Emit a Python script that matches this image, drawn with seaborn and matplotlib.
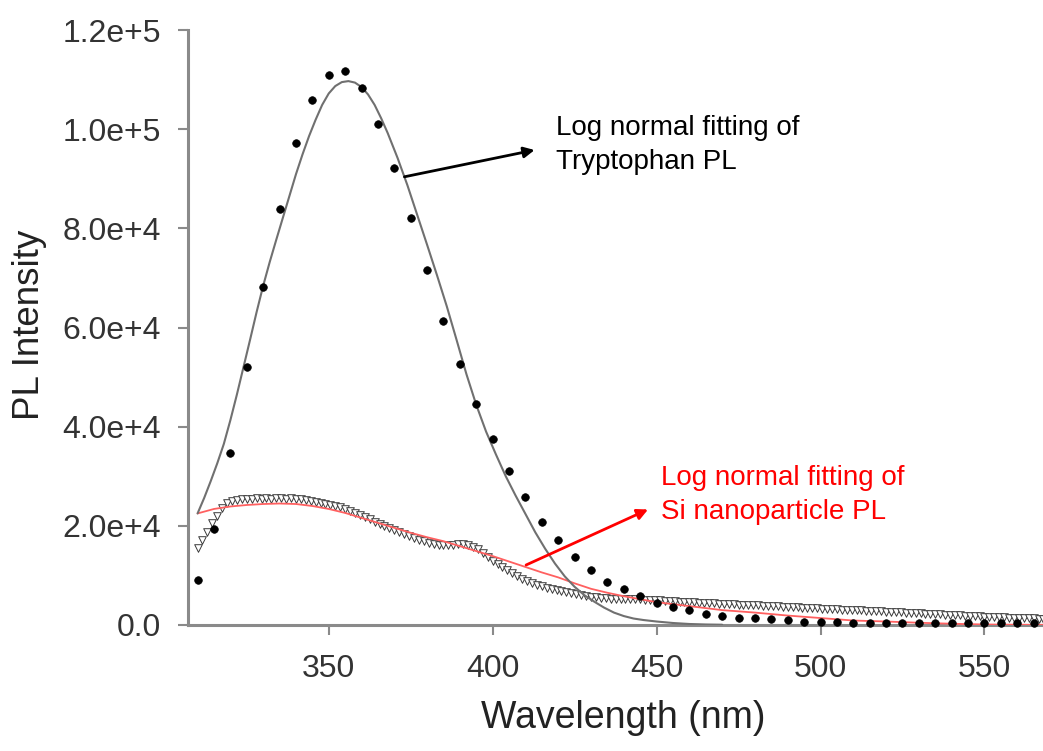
import numpy as np
import pandas as pd
import matplotlib
matplotlib.use("Agg")
import matplotlib.pyplot as plt
import seaborn as sns

# ---------------- data ----------------
# Tryptophan PL measured points (every 5 nm), intensity in units of 1e3
trp_wl = [310, 315, 320, 325, 330, 335, 340, 345, 350, 355, 360, 365, 370, 375,
          380, 385, 390, 395, 400, 405, 410, 415, 420, 425, 430, 435, 440, 445,
          450, 455, 460, 465, 470, 475, 480, 485, 490, 495, 500, 505, 510, 515,
          520, 525, 530, 535, 540, 545, 550, 555, 560, 565]
trp_int = [9.1, 19.4, 34.7, 52.0, 68.2, 84.0, 97.2, 105.8, 110.9, 111.7, 108.3,
           101.0, 92.1, 82.1, 71.6, 61.3, 52.6, 44.6, 37.5, 31.1, 25.8, 20.8,
           17.1, 13.8, 11.0, 8.7, 7.3, 5.8, 4.4, 3.7, 3.0, 2.2, 1.8, 1.5, 1.35,
           1.15, 1.0, 0.7, 0.6, 0.55, 0.5, 0.45, 0.4, 0.4, 0.45, 0.45, 0.45,
           0.4, 0.4, 0.35, 0.35, 0.3]

# Si nanoparticle PL measured points (every 1.5 nm from 310 nm), units of 1e3
si_start = 310.0
si_step = 1.5
si_int = [15.5, 17.2, 18.8, 20.5, 22.0, 23.6, 24.6, 25.0, 25.3, 25.4, 25.5, 25.4,
          25.6, 25.5, 25.7, 25.5, 25.6, 25.7, 25.5, 25.6, 25.5, 25.4, 25.3, 25.1,
          24.9, 24.6, 24.4, 24.2, 24.0, 23.7, 23.4, 23.0, 22.6, 22.2, 21.8, 21.3,
          20.8, 20.3, 19.9, 19.5, 19.1, 18.7, 18.3, 17.9, 17.5, 17.2, 16.9, 16.6,
          16.4, 16.2, 16.1, 16.1, 16.2, 16.3, 16.3, 16.1, 15.8, 15.3, 14.6, 13.8,
          13.0, 12.3, 11.6, 11.0, 10.4, 9.8, 9.3, 8.9, 8.5, 8.1, 7.8, 7.5,
          7.2, 7.0, 6.8, 6.6, 6.4, 6.2, 6.0, 5.8, 5.7, 5.6, 5.5, 5.4,
          5.3, 5.3, 5.2, 5.2, 5.2, 5.3, 5.2, 5.1, 5.1, 5.0, 5.0, 4.9,
          4.9, 4.8, 4.7, 4.7, 4.6, 4.6, 4.5, 4.5, 4.4, 4.4, 4.3, 4.3,
          4.2, 4.2, 4.1, 4.1, 4.0, 4.0, 4.0, 3.9, 3.9, 3.8, 3.8, 3.7,
          3.7, 3.6, 3.6, 3.5, 3.5, 3.4, 3.4, 3.3, 3.3, 3.2, 3.2, 3.1,
          3.1, 3.0, 3.0, 3.0, 2.9, 2.9, 2.8, 2.8, 2.7, 2.7, 2.6, 2.6,
          2.5, 2.5, 2.4, 2.4, 2.3, 2.3, 2.2, 2.2, 2.1, 2.1, 2.0, 2.0,
          1.9, 1.9, 1.8, 1.8, 1.7, 1.7, 1.6, 1.6, 1.6, 1.5, 1.5, 1.5,
          1.4, 1.4, 1.4, 1.3, 1.3]

# Log-normal fit of Tryptophan PL, units of 1e3
trp_fit_wl = [310, 312, 314, 316, 318, 320, 322, 324, 326, 328, 330, 332, 334,
              336, 338, 340, 342, 344, 346, 348, 350, 352, 354, 356, 358, 360,
              362, 364, 366, 368, 371, 374, 377, 380, 383, 386, 389, 392, 395,
              398, 401, 404, 407, 410, 413, 416, 419, 422, 425, 428, 431, 434,
              437, 440, 443, 446, 450, 455, 460, 465, 470]
trp_fit = [22.5, 25.6, 29.0, 32.6, 36.5, 41.3, 46.5, 52.0, 57.5, 63.1, 68.4,
           73.2, 77.7, 82.1, 86.5, 90.9, 94.9, 98.6, 101.9, 104.9, 107.2, 108.7,
           109.5, 109.7, 109.4, 108.5, 107.0, 104.9, 102.2, 99.2, 94.2, 88.7,
           82.7, 76.7, 70.6, 64.3, 57.5, 50.6, 44.4, 39.0, 34.4, 30.0, 26.1,
           22.4, 18.7, 15.4, 12.4, 9.8, 7.7, 6.0, 4.7, 3.5, 2.5, 1.8, 1.3, 1.0,
           0.7, 0.4, 0.2, 0.1, 0.05]

# Log-normal fit of Si nanoparticle PL, units of 1e3
si_fit_wl = [310, 315, 320, 325, 330, 335, 340, 345, 350, 355, 360, 365, 370,
             375, 380, 385, 390, 395, 400, 405, 410, 415, 420, 425, 430, 435,
             440, 445, 450, 460, 470, 480, 490, 500, 510, 520, 530, 540, 550,
             560, 568]
si_fit = [22.5, 23.4, 23.9, 24.2, 24.4, 24.5, 24.4, 24.0, 23.4, 22.6, 21.6,
          20.6, 19.6, 18.6, 17.7, 16.9, 15.9, 14.9, 13.9, 12.8, 11.7, 10.6,
          9.6, 8.4, 7.3, 6.5, 5.8, 5.2, 4.6, 3.8, 3.0, 2.5, 1.9, 1.4, 0.9,
          0.7, 0.45, 0.25, 0.1, 0.05, 0.03]

x_ticks = [350, 400, 450, 500, 550]
y_ticks = [0, 20000, 40000, 60000, 80000, 100000, 120000]
y_tick_labels = ["0.0", "2.0e+4", "4.0e+4", "6.0e+4", "8.0e+4", "1.0e+5", "1.2e+5"]

scale = 1000.0
df_trp = pd.DataFrame({"wl": trp_wl, "I": np.array(trp_int) * scale})
df_si = pd.DataFrame({"wl": si_start + si_step * np.arange(len(si_int)),
                      "I": np.array(si_int) * scale})
df_trp_fit = pd.DataFrame({"wl": trp_fit_wl, "I": np.array(trp_fit) * scale})
df_si_fit = pd.DataFrame({"wl": si_fit_wl, "I": np.array(si_fit) * scale})

# ---------------- style ----------------
sns.set_style("ticks")
plt.rcParams["font.family"] = ["Liberation Sans", "DejaVu Sans"]

fig = plt.figure(figsize=(10.43, 7.51), dpi=100)
ax = fig.add_axes([0.180, 0.1678, 0.822, 0.7922])

sns.scatterplot(data=df_si, x="wl", y="I", ax=ax, marker="v", s=30,
                facecolor="white", edgecolor="#3a3a3a", linewidth=0.7,
                zorder=2, clip_on=False)
sns.lineplot(data=df_si_fit, x="wl", y="I", ax=ax, color="#ff6060",
             linewidth=1.3, zorder=3)
sns.lineplot(data=df_trp_fit, x="wl", y="I", ax=ax, color="#707070",
             linewidth=1.5, zorder=3)
sns.scatterplot(data=df_trp, x="wl", y="I", ax=ax, marker="o", s=30,
                color="black", edgecolor="black", linewidth=0.5, zorder=4,
                clip_on=False)

ax.set_xlim(307, 568.5)
ax.set_ylim(0, 120000)
ax.set_xticks(x_ticks)
ax.set_xticklabels([str(t) for t in x_ticks])
ax.set_yticks(y_ticks)
ax.set_yticklabels(y_tick_labels)

for side in ["top", "right"]:
    ax.spines[side].set_visible(False)
for side in ["left", "bottom"]:
    ax.spines[side].set_color("#8a8a8a")
    ax.spines[side].set_linewidth(2.2)

ax.tick_params(axis="both", direction="out", length=7, width=1.5,
               color="#8a8a8a", labelsize=23, labelcolor="#333333", pad=6)
ax.tick_params(axis="y", pad=12)
ax.tick_params(axis="x", pad=14)

ax.set_xlabel("Wavelength (nm)", fontsize=27, color="#222222")
ax.set_ylabel("PL Intensity", fontsize=26.5, color="#222222")
ax.xaxis.set_label_coords(0.508, -0.156)
ax.xaxis.label.set_va("center")
ax.yaxis.set_label_coords(-0.185, 0.504)
ax.yaxis.label.set_va("center")

# annotations
ax.text(419.4, 100200, "Log normal fitting of", fontsize=20, color="black",
        ha="left", va="center")
ax.text(419.4, 93400, "Tryptophan PL", fontsize=20, color="black",
        ha="left", va="center")
ax.annotate("", xy=(412.8, 95800), xytext=(373.1, 90400),
            arrowprops=dict(arrowstyle="-|>", color="black", lw=2,
                            mutation_scale=16, shrinkA=0, shrinkB=0))

ax.text(451.5, 29600, "Log normal fitting of", fontsize=20, color="#ff0000",
        ha="left", va="center")
ax.text(451.5, 22800, "Si nanoparticle PL", fontsize=20, color="#ff0000",
        ha="left", va="center")
ax.annotate("", xy=(447.4, 23300), xytext=(410.2, 12100),
            arrowprops=dict(arrowstyle="-|>", color="#ff0000", lw=2,
                            mutation_scale=16, shrinkA=0, shrinkB=0))

if ax.get_legend() is not None:
    ax.get_legend().remove()

fig.savefig("out.png", dpi=100, facecolor="white")
